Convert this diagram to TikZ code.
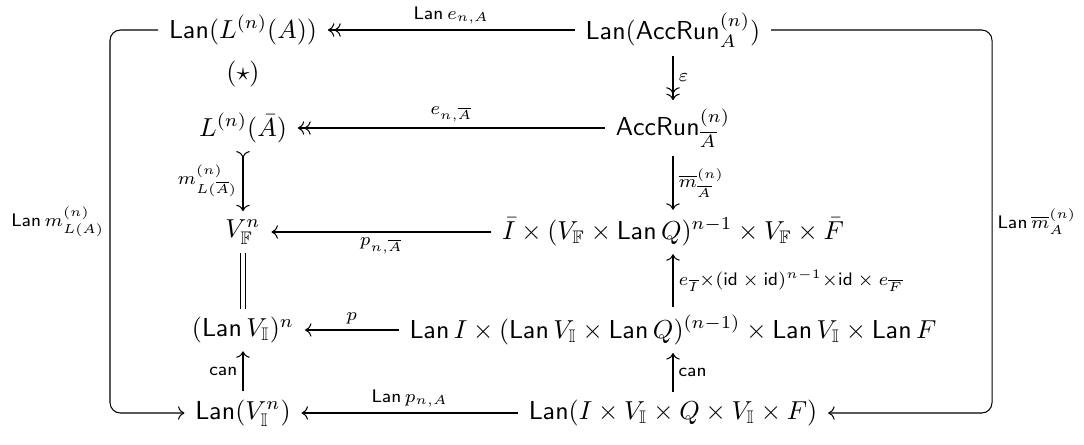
\documentclass[tikz,border=0pt]{standalone}
\usepackage{amsmath, amssymb}
\usepackage{tikz}
\usetikzlibrary{positioning, arrows.meta, calc}
\newcommand{\Lan}{\mathsf{Lan}}
\newcommand{\AccRun}{\mathsf{AccRun}}
\tikzset{
    obj/.style={
        inner xsep=4pt,
        inner ysep=3pt
    },
    map/.style={
        -{Computer Modern Rightarrow[]}
    },
    epi/.style={
        -{Computer Modern Rightarrow[] Computer Modern Rightarrow[]}
    },
    mono/.style={
        {Computer Modern Rightarrow[reversed]}-{Computer Modern Rightarrow[]}
    },
    eqline/.style={
        double,
        double distance=1.5pt
    },
    loopmap/.style={
        -{Computer Modern Rightarrow[]},
        rounded corners=4pt
    },
    lab/.style={
        font=\scriptsize,
        inner sep=2pt
    }
}

\begin{document}
\begin{tikzpicture}[x=0.385pt, y=-0.385pt]

\useasboundingbox (0,0) rectangle (1084,444);

%---------------- Left column ----------------

\node[obj] (lanL) at (243,30) {$\Lan(L^{(n)}(A))$};
\node (star) at (243,74) {$(\star)$};
\node[obj] (LAbar) at (243,128) {$L^{(n)}(\bar{A})$};
\node[obj] (VF) at (243,232) {$V_{\mathbb{F}}^{n}$};
\node[obj] (lanVn) at (243,330) {$(\Lan\, V_{\mathbb{I}})^{n}$};
\node[obj] (lanVI) at (243,413) {$\Lan(V_{\mathbb{I}}^{n})$};

%---------------- Right column ----------------

\node[obj] (lanAcc) at (673,30) {$\Lan(\AccRun_{A}^{(n)})$};
\node[obj] (accA) at (673,128) {$\AccRun_{\overline{A}}^{(n)}$};
\node[obj] (prodF) at (673,232) {$\bar{I} \times (V_{\mathbb{F}} \times \Lan\, Q)^{n-1} \times V_{\mathbb{F}} \times \bar{F}$};
\node[obj] (prodI) at (673,330) {$\Lan\, I \times (\Lan\, V_{\mathbb{I}} \times \Lan\, Q)^{(n-1)} \times \Lan\, V_{\mathbb{I}} \times \Lan\, F$};
\node[obj] (lanProd) at (673,413) {$\Lan(I \times V_{\mathbb{I}} \times Q \times V_{\mathbb{I}} \times F)$};

\coordinate (westrail) at (110,0);
\coordinate (eastrail) at (992,0);

%---------------- Rows ----------------

\draw[epi] (lanAcc) -- (lanL) node[lab, midway, above] {$\Lan\, e_{n,A}$};
\draw[epi] (accA) -- (LAbar) node[lab, midway, above] {$e_{n,\overline{A}}$};
\draw[map] (prodF) -- (VF) node[lab, midway, below] {$p_{n,\overline{A}}$};
\draw[map] (prodI) -- (lanVn) node[lab, midway, above] {$p$};
\draw[map] (lanProd) -- (lanVI) node[lab, midway, above] {$\Lan\, p_{n,A}$};

%---------------- Columns ----------------

\draw[mono] (LAbar) -- (VF) node[lab, midway, left] {$m^{(n)}_{L(\overline{A})}$};
\draw[eqline] (VF) -- (lanVn);
\draw[map] (lanVI) -- (lanVn) node[lab, midway, left] {$\mathsf{can}$};

\draw[epi] (lanAcc) -- (accA) node[lab, midway, right] {$\varepsilon$};
\draw[map] (accA) -- (prodF) node[lab, midway, right] {$\overline{m}^{(n)}_{\overline{A}}$};
\draw[map] (prodI) -- (prodF) node[lab, midway, right] {$e_{\overline{I}}{\times}(\mathsf{id} \times \mathsf{id})^{n-1}{\times}\mathsf{id} \times e_{\overline{F}}$};
\draw[map] (lanProd) -- (prodI) node[lab, midway, right] {$\mathsf{can}$};

%---------------- Outer loops ----------------

\draw[loopmap] (lanL.west) -- (lanL.west -| westrail)
    -- (lanVI.west -| westrail) node[lab, midway, left] {$\Lan\, m^{(n)}_{L(A)}$}
    -- (lanVI.west);
\draw[loopmap] (lanAcc.east) -- (lanAcc.east -| eastrail)
    -- (lanProd.east -| eastrail) node[lab, midway, right] {$\Lan\, \overline{m}^{(n)}_{A}$}
    -- (lanProd.east);

\end{tikzpicture}
\end{document}
